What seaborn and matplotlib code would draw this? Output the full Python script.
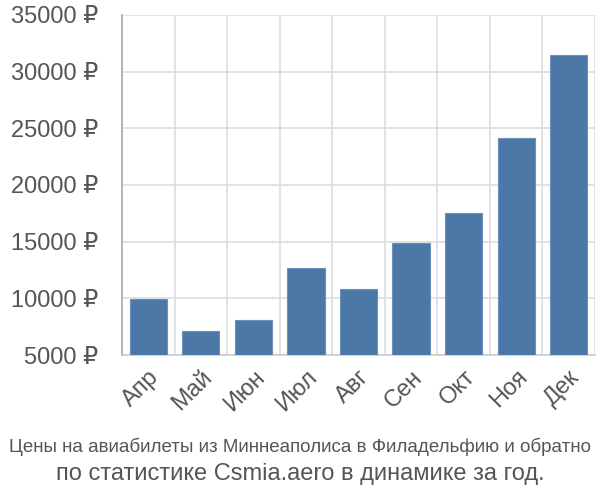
import matplotlib
matplotlib.use("Agg")
import matplotlib.pyplot as plt
import seaborn as sns
import pandas as pd
import numpy as np

months = ["Апр", "Май", "Июн", "Июл", "Авг", "Сен", "Окт", "Ноя", "Дек"]
prices = [9950, 7120, 8060, 12680, 10800, 14880, 17530, 24150, 31500]
yticks = [5000, 10000, 15000, 20000, 25000, 30000, 35000]
title1 = "Цены на авиабилеты из Миннеаполиса в Филадельфию и обратно"
title2 = "по статистике Csmia.aero в динамике за год."

sns.set_style("white")
plt.rcParams['font.family'] = ['Liberation Sans', 'DejaVu Sans']

df = pd.DataFrame({"month": months, "price": prices})

fig = plt.figure(figsize=(6, 5), dpi=100)
ax = fig.add_axes([122/600, 1-355/500, (595-122)/600, 340/500])
sns.barplot(data=df, x="month", y="price", color="#4c78a8", saturation=1,
            width=0.71, ax=ax, zorder=3, edgecolor="#6d8fba", linewidth=0.8)
ax.set_ylim(5000, 35000)
ax.set_xlim(-0.5, len(months)-0.5)
ax.set_yticks(yticks)
ax.set_yticklabels([f"{v} ₽" for v in yticks])
ax.set_xlabel("")
ax.set_ylabel("")

grid_c = "#dddddd"
ax.set_xticks(np.arange(-0.5, len(months), 1.0), minor=True)
ax.grid(True, which="minor", axis="x", color=grid_c, lw=1.2, zorder=0)
ax.grid(True, which="major", axis="y", color=grid_c, lw=1.2, zorder=0)
ax.tick_params(axis="x", which="minor", length=14.4, width=1.2, color=grid_c)
ax.tick_params(axis="x", which="major", length=0, pad=8, labelsize=17, labelcolor="#555555")
ax.tick_params(axis="y", which="major", length=14.4, width=1.2, color=grid_c,
               pad=3, labelsize=17, labelcolor="#555555")
for lab in ax.get_xticklabels():
    lab.set_rotation(45)
    lab.set_ha("right")
    lab.set_rotation_mode("anchor")

for s in ["top", "right"]:
    ax.spines[s].set_visible(False)
ax.spines["left"].set_color("#aaaaaa")
ax.spines["left"].set_linewidth(1.2)
ax.spines["bottom"].set_color("#cccccc")
ax.spines["bottom"].set_linewidth(1.2)

fig.text(0.5, 1-447/500, title1, ha="center", va="center", fontsize=13.5,
         color="#555555")
fig.text(0.5, 1-474/500, title2, ha="center", va="center", fontsize=17,
         color="#555555")

fig.savefig("out.png", dpi=100)
